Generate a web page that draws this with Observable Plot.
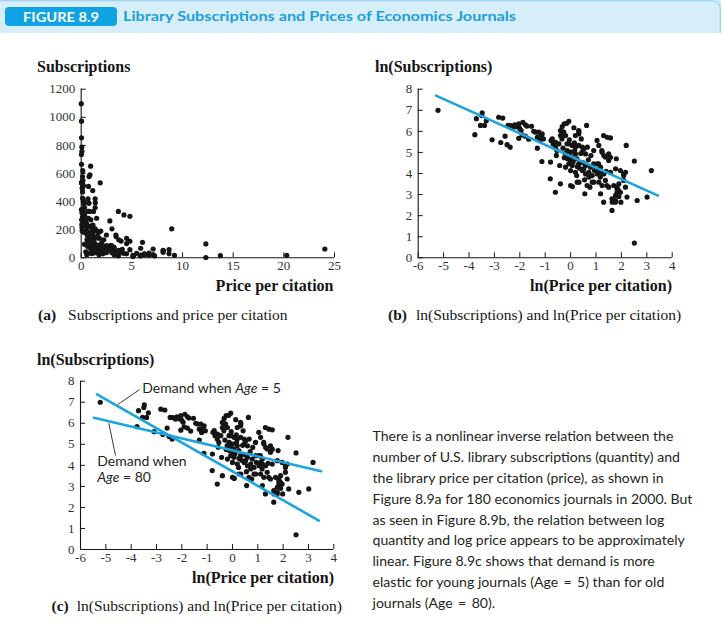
<!DOCTYPE html>
<html>
<head>
<meta charset="utf-8">
<script src="https://cdn.jsdelivr.net/npm/d3@7"></script>
<script src="https://cdn.jsdelivr.net/npm/@observablehq/plot@0.6"></script>
<style>
  html, body { margin: 0; padding: 0; background: #fff; }
  body { width: 722px; height: 632px; position: relative; overflow: hidden; }
  .panel { position: absolute; }
  .panel svg { overflow: visible; }
  #overlay { position: absolute; left: 0; top: 0; pointer-events: none; }
  g[aria-label$="tick label"] { fill: #333; }
</style>
</head>
<body>
<div id="pa" class="panel" style="left:0px;top:75px"></div>
<div id="pb" class="panel" style="left:355px;top:75px"></div>
<div id="pc" class="panel" style="left:0px;top:366px"></div>
<svg id="overlay" width="722" height="632"></svg>
<script>
// ---- Data: ln(price per citation) and ln(subscriptions) for the journals ----
const lnPrice = [
  -5.22,-3.77,-3.71,-3.48,-3.55,-3.39,-3.32,-3.09,-2.83,-2.67,
  -2.75,-2.58,-2.50,-2.38,-2.46,-2.36,-2.20,-2.10,-2.01,-2.04,
  -1.88,-1.78,-1.54,-2.04,-1.91,-1.78,-1.65,-1.38,-1.31,-1.22,
  -1.31,-2.25,-1.95,-1.72,-1.45,-1.17,-1.07,-3.50,
  -1.13,-0.80,-0.77,-0.69,-0.60,-0.60,-0.56,-0.54,-0.43,-0.40,
  -0.34,-0.30,-0.25,-0.21,-0.14,-0.12,-0.07, 0.00, 0.07, 0.13,
   0.16, 0.24, 0.26, 0.33, 0.33, 0.42, 0.46, 0.52, 0.56, 0.63,
   0.66, 0.72, 0.76, 0.85, 0.91, 0.94, 1.04, 1.10, 1.17, 1.23,
   1.30, 1.30, 1.37, 1.43, 1.50, 1.57, 1.63, 1.63, 1.76, 1.80,
   1.83, 1.89, 1.98, 2.09, 2.19, 2.22, 2.51, 2.51, 2.62, 3.01, 3.18,
  -0.15,-0.33,-1.25,-1.12,-1.19,-0.72,-0.59,-0.46,-0.40,-0.40,
  -0.27,-0.20, 0.32, 0.32, 0.19, 1.11,-0.07, 0.06, 0.19, 0.32,
   0.46, 0.52,-0.13, 0.00,-0.07, 0.06, 0.19, 0.40, 0.59,-0.79,
  -0.20,-0.07, 0.06, 0.32, 0.59, 0.78, 0.91, 0.00, 0.19, 0.46,
   0.59, 0.72, 0.85, 1.05, 1.18, 0.00, 0.26, 0.65, 0.91, 1.18,
   1.44, 1.24, 1.31, 1.50, 1.57, 1.05, 1.18, 1.11, 1.31, 1.57,
   1.77, 1.96, 2.09, 2.16, 1.11, 1.24, 1.37, 1.50, 1.70, 1.83,
   1.90, 1.96, 2.09, 2.16, 1.83, 1.77, 1.90, 1.64, 1.77,
  -0.30,-0.25, 0.10, 0.25, 0.50, 0.70, 0.35, 0.15,-0.05, 0.80, 0.55, 1.40
];
const lnSubs = [
   7.00, 5.84, 6.60, 6.88, 6.28, 6.28, 6.50, 5.60, 6.67, 6.63,
   5.47, 5.77, 5.37, 5.25, 6.28, 6.27, 6.31, 6.22, 6.15, 6.36,
   6.43, 6.31, 6.24, 5.67, 5.83, 5.77, 5.63, 5.96, 5.72, 5.56,
   5.20, 6.20, 6.05, 6.25, 6.00, 5.76, 5.64, 6.75,
   4.57, 3.75, 5.57, 5.41, 5.25, 3.11, 4.86, 5.09, 4.38, 3.51,
   5.64, 5.97, 6.36, 4.94, 5.41, 4.70, 6.48, 4.62, 3.38, 6.17,
   5.09, 3.90, 4.33, 5.97, 3.59, 5.64, 5.01, 4.22, 3.04, 6.28,
   5.25, 3.83, 3.35, 3.59, 5.09, 4.14, 5.57, 4.46, 3.83, 5.09,
   5.80, 2.64, 4.78, 3.43, 4.62, 5.69, 2.25, 2.80, 2.64, 4.70,
   3.35, 3.19, 2.64, 3.90, 5.33, 2.88, 4.59, 0.70, 2.72, 2.88, 4.14,
   6.38, 6.23, 5.96, 5.88, 5.72, 5.65, 5.48, 5.41, 6.04, 5.80,
   5.96, 5.80, 6.04, 5.88, 5.80, 5.33, 5.41, 5.33, 5.25, 5.33,
   5.25, 5.17, 5.09, 5.01, 4.85, 4.77, 4.93, 4.95, 4.93, 4.54,
   4.30, 4.46, 4.38, 4.46, 4.38, 4.30, 4.46, 4.14, 4.06, 4.14,
   3.98, 4.06, 3.90, 3.98, 4.06, 3.43, 3.59, 3.43, 3.59, 3.04,
   5.72, 5.01, 4.85, 4.93, 4.77, 4.46, 4.30, 4.14, 3.98, 4.06,
   4.22, 4.14, 3.98, 4.06, 3.59, 3.43, 3.67, 3.35, 3.43, 3.27,
   3.51, 3.11, 3.67, 3.35, 3.11, 2.96, 2.91, 2.64, 2.72,
   5.20, 4.75, 4.55, 4.70, 4.50, 4.65, 4.25, 5.45, 5.60, 4.85, 3.70, 4.10
];

// ---- Tick values ----
const priceTicks = [0, 5, 10, 15, 20, 25];
const subsTicks = [0, 200, 400, 600, 800, 1000, 1200];
const lnPriceTicks = [-6, -5, -4, -3, -2, -1, 0, 1, 2, 3, 4];
const lnSubsTicks = [0, 1, 2, 3, 4, 5, 6, 7, 8];

// ---- Fitted demand lines: intercept, slope, x-extent (ln price) ----
const fitAll   = {a: 4.82, b: -0.543, from: -5.30, to: 3.44};
const fitAge5  = {a: 3.71, b: -0.685, from: -5.35, to: 3.41};
const fitAge80 = {a: 4.71, b: -0.283, from: -5.47, to: 3.50};

// ---- Panel (c) annotations (data coordinates) ----
const annotLabels = [
  {x: -3.56, y: 7.64, text: "Demand when *Age* = 5"},
  {x: -5.34, y: 4.20, text: "Demand when"},
  {x: -5.34, y: 3.41, text: "*Age* = 80"}
];
const annotLinks = [
  {x1: -3.67, y1: 7.60, x2: -4.53, y2: 6.89},
  {x1: -4.62, y1: 4.47, x2: -4.88, y2: 6.00}
];

const journals = lnPrice.map((p, i) => ({
  lnP: p, lnS: lnSubs[i], P: Math.exp(p), S: Math.exp(lnSubs[i])
}));
const linePts = f => [{x: f.from, y: f.a + f.b * f.from}, {x: f.to, y: f.a + f.b * f.to}];

const BLUE = "#1da4de";
const INK = "#151515";
const fmt = d => String(d);

function makePanel({x, y, xDomain, yDomain, xTicks, yTicks, w, h, m, extra = []}) {
  return Plot.plot({
    width: w, height: h,
    marginTop: m[0], marginRight: m[1], marginBottom: m[2], marginLeft: m[3],
    x: {domain: xDomain},
    y: {domain: yDomain},
    style: {fontFamily: "'Liberation Serif', 'DejaVu Serif', serif", fontSize: "13px", background: "transparent", color: INK},
    marks: [
      Plot.ruleY([yDomain[0]], {stroke: INK, strokeWidth: 1.1}),
      Plot.ruleX([xDomain[0]], {stroke: INK, strokeWidth: 1.1}),
      Plot.axisX({ticks: xTicks, tickSize: -5, tickPadding: 8, tickFormat: fmt, label: null, stroke: INK}),
      Plot.axisY({ticks: yTicks, tickSize: -5, tickPadding: 11, tickFormat: fmt, label: null, stroke: INK}),
      Plot.dot(journals, {x, y, r: 2.6, fill: INK, stroke: null}),
      ...extra
    ]
  });
}

function italicize(svg) {
  d3.select(svg).selectAll("text").each(function() {
    const t = this.textContent;
    if (!t.includes("*")) return;
    const parts = t.split("*");
    this.textContent = "";
    parts.forEach((s, i) => {
      if (!s) return;
      const ts = document.createElementNS("http://www.w3.org/2000/svg", "tspan");
      ts.textContent = s;
      if (i % 2) ts.setAttribute("font-style", "italic");
      this.appendChild(ts);
    });
  });
}

// Panel (a)
const pa = makePanel({
  x: "P", y: "S", xDomain: [0, 25], yDomain: [0, 1200],
  xTicks: priceTicks, yTicks: subsTicks,
  w: 350, h: 200, m: [13.7, 16, 17.7, 80.7]
});
document.getElementById("pa").appendChild(pa);

// Panel (b)
const pb = makePanel({
  x: "lnP", y: "lnS", xDomain: [-6, 4], yDomain: [0, 8],
  xTicks: lnPriceTicks, yTicks: lnSubsTicks,
  w: 350, h: 200, m: [13.7, 33.3, 17.7, 62.7],
  extra: [Plot.line(linePts(fitAll), {x: "x", y: "y", stroke: BLUE, strokeWidth: 2.6})]
});
document.getElementById("pb").appendChild(pb);

// Panel (c)
const pc = makePanel({
  x: "lnP", y: "lnS", xDomain: [-6, 4], yDomain: [0, 8],
  xTicks: lnPriceTicks, yTicks: lnSubsTicks,
  w: 350, h: 200, m: [14.7, 16.7, 17, 80],
  extra: [
    Plot.line(linePts(fitAge5), {x: "x", y: "y", stroke: BLUE, strokeWidth: 2.6}),
    Plot.line(linePts(fitAge80), {x: "x", y: "y", stroke: BLUE, strokeWidth: 2.6}),
    Plot.link(annotLinks, {x1: "x1", y1: "y1", x2: "x2", y2: "y2", stroke: "#231f20", strokeWidth: 0.9}),
    Plot.text(annotLabels, {x: "x", y: "y", text: "text", textAnchor: "start", lineAnchor: "middle",
      fontFamily: "Lato, 'Open Sans', sans-serif", fontSize: 14, fill: "#231f20"})
  ]
});
italicize(pc);
document.getElementById("pc").appendChild(pc);

// ---- Overlay: header, axis titles, captions, paragraph ----
const ov = d3.select("#overlay");
ov.append("rect").attr("x", 0).attr("y", 0).attr("width", 721).attr("height", 33).attr("fill", "#d6eef9");
ov.append("path").attr("d", "M0,0.6 H711 Q720.4,0.6 720.4,10 V33").attr("fill", "none").attr("stroke", "#9fd4f0").attr("stroke-width", 1.2);
ov.append("rect").attr("x", 5).attr("y", 7).attr("width", 112).attr("height", 19).attr("rx", 4).attr("fill", "#0fa3e3");
ov.append("text").attr("x", 23).attr("y", 21.7).attr("fill", "#fff")
  .attr("font-family", "Lato, sans-serif").attr("font-weight", 700).attr("font-size", 13.5)
  .attr("textLength", 76).attr("lengthAdjust", "spacingAndGlyphs").text("FIGURE 8.9");
ov.append("text").attr("x", 123).attr("y", 21).attr("fill", "#1b9fdc")
  .attr("font-family", "Lato, sans-serif").attr("font-weight", 700).attr("font-size", 14)
  .attr("textLength", 393).attr("lengthAdjust", "spacingAndGlyphs")
  .text("Library Subscriptions and Prices of Economics Journals");

const serif = "'Liberation Serif', 'DejaVu Serif', serif";
function label(x, y, s, anchor = "start") {
  ov.append("text").attr("x", x).attr("y", y).attr("text-anchor", anchor)
    .attr("font-family", serif).attr("font-weight", 700).attr("font-size", 16).attr("fill", INK).text(s);
}
label(37, 71.7, "Subscriptions");
label(333.5, 291, "Price per citation", "end");
label(375, 71.7, "ln(Subscriptions)");
label(672, 291, "ln(Price per citation)", "end");
label(37, 365, "ln(Subscriptions)");
label(334, 583.3, "ln(Price per citation)", "end");

function caption(x, y, tag, s, gap) {
  const t = ov.append("text").attr("x", x).attr("y", y)
    .attr("font-family", serif).attr("font-size", 15.5).attr("fill", INK);
  t.append("tspan").attr("font-weight", 700).text(tag);
  t.append("tspan").attr("dx", gap).text(s);
}
caption(38, 320, "(a)", "Subscriptions and price per citation", 12);
caption(388, 320, "(b)", "ln(Subscriptions) and ln(Price per citation)", 9);
caption(51.5, 610.7, "(c)", "ln(Subscriptions) and ln(Price per citation)", 8);

const para = [
  "There is a nonlinear inverse relation between the",
  "number of U.S. library subscriptions (quantity) and",
  "the library price per citation (price), as shown in",
  "Figure 8.9a for 180 economics journals in 2000. But",
  "as seen in Figure 8.9b, the relation between log",
  "quantity and log price appears to be approximately",
  "linear. Figure 8.9c shows that demand is more",
  "elastic for young journals (Age \u2009=\u2009 5) than for old",
  "journals (Age \u2009=\u2009 80)."
];
para.forEach((s, i) => {
  ov.append("text").attr("x", 372.5).attr("y", 440.7 + i * 20.95)
    .attr("font-family", "Lato, 'Open Sans', sans-serif").attr("font-size", 14.1).attr("fill", "#231f20")
    .attr("xml:space", "preserve").style("white-space", "pre").text(s);
});
</script>
</body>
</html>
